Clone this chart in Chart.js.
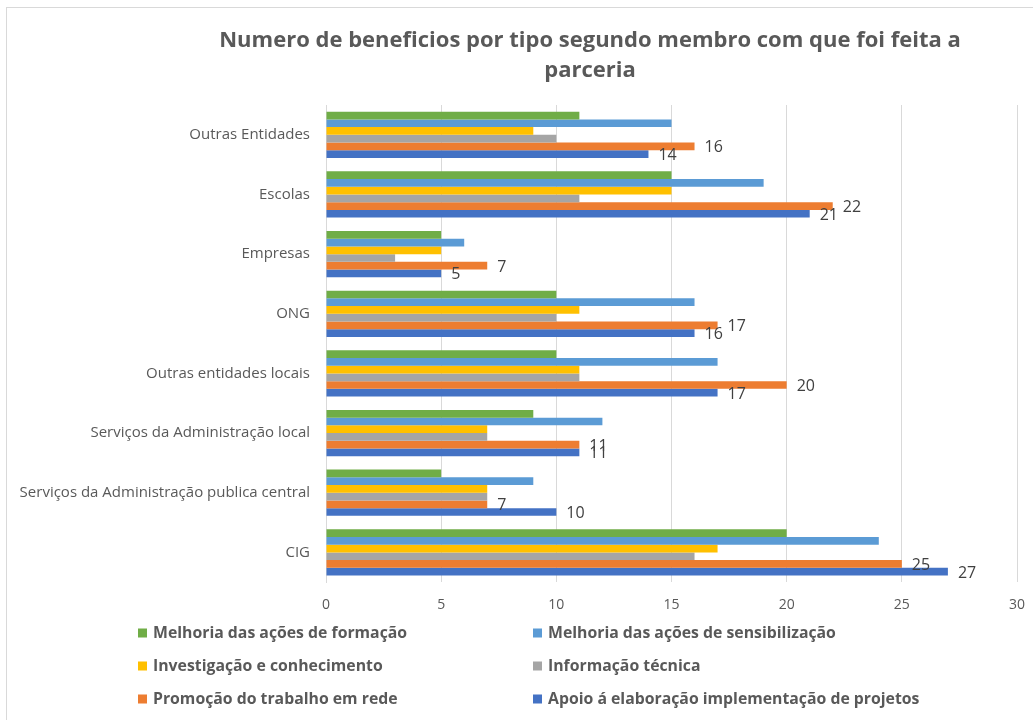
<!DOCTYPE html>
<html><head><meta charset="utf-8">
<script src="https://cdn.jsdelivr.net/npm/chart.js@4.4.1/dist/chart.umd.min.js"></script>
<style>html,body{margin:0;padding:0;background:#fff;} canvas{display:block;}</style>
</head><body>
<canvas id="c" width="1033" height="720"></canvas>
<script>
const categories = ["Outras Entidades","Escolas","Empresas","ONG","Outras entidades locais","Serviços da Administração local","Serviços da Administração publica central","CIG"];
const seriesNames = ["Melhoria das ações de formação","Melhoria das ações de sensibilização","Investigação e conhecimento","Informação técnica","Promoção do trabalho em rede","Apoio á elaboração implementação de projetos"];
const formacao       = [11,15,5,10,10,9,5,20];
const sensibilizacao = [15,19,6,16,17,12,9,24];
const investigacao   = [9,15,5,11,11,7,7,17];
const informacao     = [10,11,3,10,11,7,7,16];
const promocao       = [16,22,7,17,20,11,7,25];
const apoio          = [14,21,5,16,17,11,10,27];
const xTicks = [0,5,10,15,20,25,30];
const titleLines = ["Numero de beneficios por tipo segundo membro com que foi feita a","parceria"];
const labelledSeries = [4,5];

const seriesData = [formacao, sensibilizacao, investigacao, informacao, promocao, apoio];
const colors = ["#70AD47","#5B9BD5","#FFC000","#A5A5A5","#ED7D31","#4472C4"];
const FONT = '"Open Sans", "Noto Sans", sans-serif';

const framePlugin = {
  id:'frame',
  beforeDraw(chart){
    const ctx = chart.ctx;
    ctx.save();
    ctx.fillStyle = '#fff';
    ctx.fillRect(0,0,chart.width,chart.height);
    ctx.strokeStyle = '#d9d9d9';
    ctx.lineWidth = 1;
    ctx.strokeRect(6.5,7.5,chart.width+20,chart.height+20);
    ctx.restore();
  }
};

const titlePlugin = {
  id:'customTitle',
  afterDraw(chart){
    const ctx = chart.ctx;
    ctx.save();
    ctx.font = 'bold 22px ' + FONT;
    ctx.fillStyle = '#595959';
    ctx.textAlign = 'center';
    ctx.textBaseline = 'middle';
    titleLines.forEach((t,i)=>ctx.fillText(t, 590, 40.5 + i*30));
    ctx.restore();
  }
};

const valueLabelPlugin = {
  id:'valueLabels',
  afterDatasetsDraw(chart){
    const ctx = chart.ctx;
    ctx.save();
    ctx.font = '16px ' + FONT;
    ctx.fillStyle = '#404040';
    ctx.textAlign = 'left';
    ctx.textBaseline = 'middle';
    labelledSeries.forEach(di=>{
      const meta = chart.getDatasetMeta(di);
      meta.data.forEach((bar,i)=>{
        ctx.fillText(String(chart.data.datasets[di].data[i]), bar.x + 10, bar.y + 1.5);
      });
    });
    ctx.restore();
  }
};

const legendPlugin = {
  id:'customLegend',
  afterDraw(chart){
    const ctx = chart.ctx;
    const colX = [138, 533];
    const rowY = [633, 666, 699];
    ctx.save();
    ctx.font = 'bold 15.8px ' + FONT;
    ctx.textAlign = 'left';
    ctx.textBaseline = 'middle';
    chart.data.datasets.forEach((ds,i)=>{
      const x = colX[i % 2], y = rowY[Math.floor(i/2)];
      ctx.fillStyle = ds.backgroundColor;
      ctx.fillRect(x, y - 4.5, 9, 9);
      ctx.fillStyle = '#595959';
      ctx.fillText(ds.label, x + 15, y);
    });
    ctx.restore();
  }
};

new Chart(document.getElementById('c'), {
  type:'bar',
  data:{
    labels: categories,
    datasets: seriesNames.map((n,i)=>({
      label:n, data:seriesData[i], backgroundColor:colors[i], borderWidth:0,
      categoryPercentage:0.775, barPercentage:1
    }))
  },
  options:{
    indexAxis:'y', responsive:false, animation:false, devicePixelRatio:1,
    layout:{padding:{top:105, right:16, bottom:93, left:0}},
    plugins:{legend:{display:false}, title:{display:false}, tooltip:{enabled:false}},
    scales:{
      x:{
        min:xTicks[0], max:xTicks[xTicks.length-1],
        afterBuildTicks(s){ s.ticks = xTicks.map(v=>({value:v})); },
        afterFit(s){ s.paddingRight = 0; s.paddingLeft = 0; },
        ticks:{color:'#595959', font:{family:FONT, size:14}, padding:14},
        grid:{color:'#d9d9d9', drawTicks:false},
        border:{display:false}
      },
      y:{
        ticks:{color:'#595959', font:{family:FONT, size:15}, padding:16},
        grid:{display:false, drawTicks:false},
        border:{display:true, color:'#d9d9d9'},
        afterFit(s){ s.width = 326; }
      }
    }
  },
  plugins:[framePlugin, valueLabelPlugin, titlePlugin, legendPlugin]
});
</script>
</body></html>
